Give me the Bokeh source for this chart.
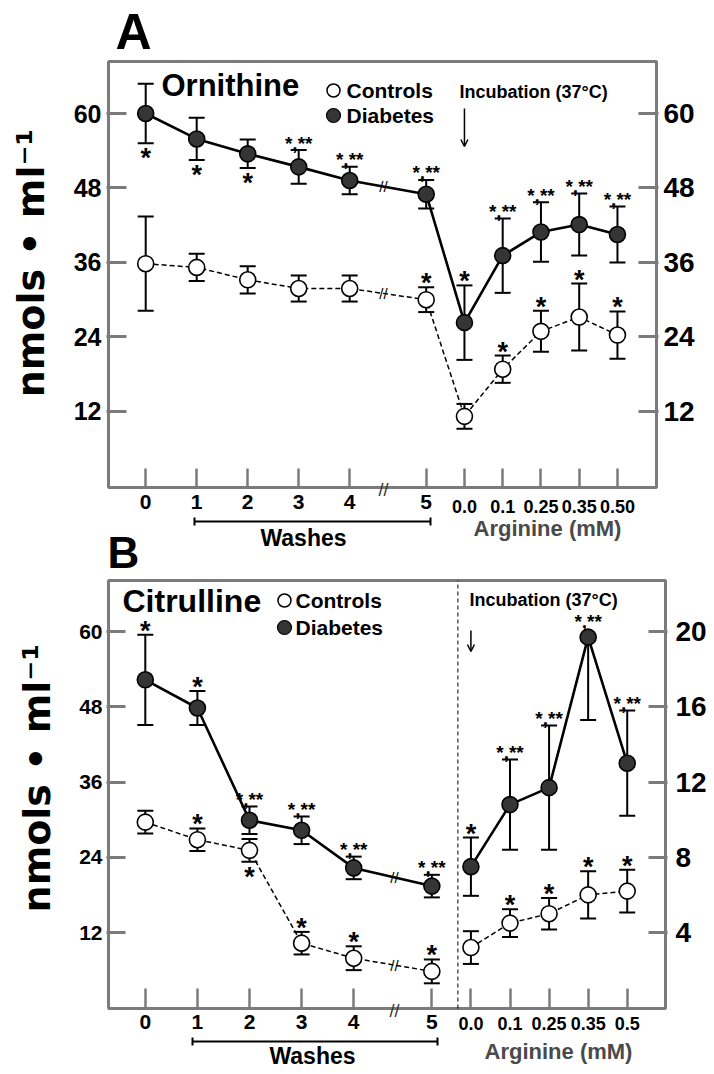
import numpy as np
from bokeh.plotting import figure
from bokeh.models import (ColumnDataSource, Range1d, LinearAxis, FixedTicker,
                          Whisker, TeeHead, Arrow, OpenHead)
from bokeh.layouts import column
from bokeh.embed import file_html
from bokeh.resources import INLINE
from bokeh.core.properties import value

# ---------------- data ----------------
wash_labels = ["0", "1", "2", "3", "4", "5"]
arginine_labels_A = ["0.0", "0.1", "0.25", "0.35", "0.50"]
arginine_labels_B = ["0.0", "0.1", "0.25", "0.35", "0.5"]

yticks_A = [12, 24, 36, 48, 60]
yticks_B_left = [12, 24, 36, 48, 60]
yticks_B_right = [4, 8, 12, 16, 20]

# Panel A - Ornithine (washes 0..5, then arginine 0.0..0.50)
orn_diabetes = [60.0, 55.9, 53.5, 51.4, 49.2, 47.0, 26.3, 37.1, 40.9, 42.1, 40.5]
orn_diabetes_sem = [4.8, 3.4, 2.3, 2.7, 2.2, 2.3, 6.0, 6.0, 4.8, 5.0, 4.5]
orn_controls = [35.8, 35.2, 33.2, 31.8, 31.8, 30.0, 11.2, 18.8, 24.9, 27.2, 24.3]
orn_controls_sem = [7.6, 2.2, 2.2, 2.1, 2.1, 2.0, 2.0, 2.2, 3.3, 5.4, 3.8]
orn_diabetes_sig = ["*", "*", "*", "*,**", "*,**", "*,**", "*", "*,**", "*,**", "*,**", "*,**"]
orn_diabetes_side = ["below", "below", "below"] + ["above"] * 8
orn_controls_sig = ["", "", "", "", "", "*", "", "*", "*", "*", "*"]
orn_controls_side = ["above"] * 11

# Panel B - Citrulline, washes (left axis, nmol/ml)
cit_w_diabetes = [52.3, 47.8, 29.9, 28.3, 22.3, 19.4]
cit_w_diabetes_sem = [7.2, 2.7, 2.2, 2.2, 1.8, 1.8]
cit_w_controls = [29.6, 26.8, 25.1, 10.3, 7.9, 5.8]
cit_w_controls_sem = [1.8, 1.8, 1.8, 1.8, 1.9, 1.9]
cit_w_diabetes_sig = ["*", "*", "*,**", "*,**", "*,**", "*,**"]
cit_w_diabetes_side = ["above"] * 6
cit_w_controls_sig = ["", "*", "*", "*", "*", "*"]
cit_w_controls_side = ["above", "above", "below", "above", "above", "above"]
# Panel B - Citrulline, arginine incubation (right axis)
cit_a_diabetes = [7.5, 10.8, 11.7, 19.7, 13.0]
cit_a_diabetes_up = [1.55, 2.4, 3.3, 0.0, 2.8]
cit_a_diabetes_dn = [1.55, 2.4, 3.3, 4.4, 2.8]
cit_a_controls = [3.2, 4.5, 5.0, 6.0, 6.2]
cit_a_controls_sem = [0.87, 0.74, 0.84, 1.26, 1.14]
cit_a_diabetes_sig = ["*", "*,**", "*,**", "*,**", "*,**"]
cit_a_controls_sig = ["", "*", "*", "*", "*"]

# ---------------- layout / style ----------------
xpos_wash = [0.0, 1.0, 2.0, 3.0, 4.0, 5.5]
xpos_arg = [6.25, 7.0, 7.75, 8.5, 9.25]
xpos_all = xpos_wash + xpos_arg

FONT = "Liberation Sans"
YFONT = "DejaVu Sans"
GRAY = "#7b7b7b"
MARKER = 16


class Panel:
    """page-pixel -> data helpers for one panel"""
    def __init__(self, x0, xunit, y60, ppu):
        self.x0, self.xunit, self.y60, self.ppu = x0, xunit, y60, ppu

    def X(self, px):
        return (px - self.x0) / self.xunit

    def Y(self, py):
        return 60 - (py - self.y60) / self.ppu


def make_fig(P, page_left, page_right, page_top, page_bottom, fig_left, fig_right):
    p = figure(frame_width=page_right - page_left, frame_height=page_bottom - page_top,
               x_range=Range1d(P.X(page_left), P.X(page_right)),
               y_range=Range1d(P.Y(page_bottom), P.Y(page_top)),
               output_backend="svg", toolbar_location=None,
               min_border_left=page_left - fig_left, min_border_right=fig_right - page_right,
               min_border_top=0, min_border_bottom=0)
    p.grid.visible = False
    p.outline_line_color = None
    p.background_fill_color = "white"
    p.border_fill_color = "white"
    return p


def style_axis(ax, ticks, size, standoff, tick_in, tick_w):
    ax.ticker = FixedTicker(ticks=ticks)
    ax.axis_line_color = None
    ax.major_tick_in = tick_in
    ax.major_tick_out = 0
    ax.major_tick_line_color = GRAY
    ax.major_tick_line_width = tick_w
    ax.minor_tick_line_color = None
    ax.major_label_text_font = FONT
    ax.major_label_text_font_style = "bold"
    ax.major_label_text_font_size = size
    ax.major_label_text_color = "black"
    ax.major_label_standoff = standoff


def txt(p, x, y, s, size, align="left", baseline="middle", color="black", style="bold"):
    xs = x if isinstance(x, list) else [x]
    ys = y if isinstance(y, list) else [y]
    ss = s if isinstance(s, list) else [s]
    p.text(x=xs, y=ys, text=ss, text_font=value(FONT), text_font_size=size,
           text_font_style=style, text_align=align, text_baseline=baseline, text_color=color)


def draw_series(p, xs, ys, up, dn, filled, range_name="default"):
    kw = {} if range_name == "default" else {"y_range_name": range_name}
    p.line(xs, ys, line_color="black", line_width=2.6 if filled else 1.5,
           line_dash="solid" if filled else "5 3", **kw)
    src = ColumnDataSource(dict(x=xs, up=[y + u for y, u in zip(ys, up)],
                                lo=[y - d for y, d in zip(ys, dn)]))
    w = Whisker(base="x", upper="up", lower="lo", source=src, level="underlay",
                line_color="black", line_width=2,
                upper_head=TeeHead(size=16, line_width=2, line_color="black"),
                lower_head=TeeHead(size=16, line_width=2, line_color="black"), **kw)
    p.add_layout(w)
    return p.scatter(xs, ys, size=MARKER, marker="circle",
                     fill_color="#353535" if filled else "white",
                     line_color="black", line_width=1.6, **kw)


def draw_sig(p, xs, ys, up, dn, texts, sides, ppu, range_name="default"):
    kw = {} if range_name == "default" else {"y_range_name": range_name}
    r = (MARKER / 2 + 1) / ppu
    X, Y, T, S = [], [], [], []
    for x, y, u, d, t, s in zip(xs, ys, up, dn, texts, sides):
        if not t:
            continue
        single = t == "*"
        if s == "above":
            base = y + max(u, r)
            yy = base + (4.0 if single else 7.0) / ppu
        else:
            base = y - max(d, r)
            yy = base - 15.0 / ppu
        X.append(x); Y.append(yy); T.append(t); S.append("27px" if single else "19px")
    src = ColumnDataSource(dict(x=X, y=Y, t=T, fs=S))
    p.text(x="x", y="y", text="t", text_font_size="fs", source=src, text_align="center",
           text_baseline="alphabetic", text_font=value(FONT), text_font_style="bold",
           text_color="black", **kw)


def draw_box(p, P, l, r, t, b):
    p.quad(left=[P.X(l)], right=[P.X(r)], bottom=[P.Y(b)], top=[P.Y(t)],
           fill_color=None, line_color=GRAY, line_width=3)


def manual_legend(p, P, mx, lx, y_ctrl, y_diab):
    p.scatter([P.X(mx)], [P.Y(y_ctrl)], size=13, marker="circle", fill_color="white",
              line_color="black", line_width=1.5)
    p.scatter([P.X(mx)], [P.Y(y_diab)], size=14, marker="circle", fill_color="#353535",
              line_color="black", line_width=1.2)
    txt(p, [P.X(lx)] * 2, [P.Y(y_ctrl), P.Y(y_diab)], ["Controls", "Diabetes"], "21px")


def bottom_decor(p, P, box_bottom, arg_labels, y_arg, y_line, x_line0, x_line1,
                 washes_xy, arg_xy, break_x):
    txt(p, xpos_arg, [P.Y(y_arg)] * len(xpos_arg), arg_labels, "18px", align="center")
    p.add_layout(Arrow(x_start=P.X(x_line0), y_start=P.Y(y_line),
                       x_end=P.X(x_line1), y_end=P.Y(y_line), line_width=2.2,
                       line_color="black",
                       start=TeeHead(size=8, line_width=2, line_color="black"),
                       end=TeeHead(size=8, line_width=2, line_color="black")))
    txt(p, P.X(washes_xy[0]), P.Y(washes_xy[1]), "Washes", "23px", align="center")
    txt(p, P.X(arg_xy[0]), P.Y(arg_xy[1]), "Arginine (mM)", "22px", align="center",
        color="#4a4a4a")
    txt(p, P.X(break_x), P.Y(box_bottom + 2), "//", "18px", align="center", style="normal",
        color="#333333")


def y_label(ax, pad, standoff):
    ax.axis_label = "\u00a0" * pad + "nmols \u2022 ml\u207b\u00b9"
    ax.axis_label_text_font = YFONT
    ax.axis_label_text_font_size = "38px"
    ax.axis_label_text_font_style = "bold"
    ax.axis_label_text_color = "black"
    ax.axis_label_standoff = standoff


# ================= Panel A =================
PA = Panel(x0=145.2, xunit=51.0, y60=113, ppu=6.206)
pA = make_fig(PA, 106, 658, 0, 578, 0, 714)
pA.extra_y_ranges = {"right": Range1d(pA.y_range.start, pA.y_range.end)}
pA.add_layout(LinearAxis(y_range_name="right"), "right")
draw_box(pA, PA, 108, 656, 61, 487)

style_axis(pA.yaxis[0], yticks_A, "25px", 5, 20, 3)
style_axis(pA.yaxis[1], yticks_A, "28px", 5, 20, 3)
style_axis(pA.xaxis[0], xpos_all, "21px", 7, 19, 2.5)
pA.xaxis[0].fixed_location = PA.Y(487)
pA.xaxis[0].major_label_overrides = {x: (wash_labels[i] if i < 6 else "")
                                    for i, x in enumerate(xpos_all)}
y_label(pA.yaxis[0], 4, 18)

ctrlA = draw_series(pA, xpos_all, orn_controls, orn_controls_sem, orn_controls_sem, False)
diabA = draw_series(pA, xpos_all, orn_diabetes, orn_diabetes_sem, orn_diabetes_sem, True)
draw_sig(pA, xpos_all, orn_controls, orn_controls_sem, orn_controls_sem,
         orn_controls_sig, orn_controls_side, PA.ppu)
draw_sig(pA, xpos_all, orn_diabetes, orn_diabetes_sem, orn_diabetes_sem,
         orn_diabetes_sig, orn_diabetes_side, PA.ppu)

bxA = PA.X(383)
brkA = [float(np.interp(bxA, xpos_wash, s[:6])) for s in (orn_diabetes, orn_controls)]
pA.text(x=[bxA, bxA], y=brkA, text=["//", "//"], text_align="center",
        text_baseline="middle", text_font_size="15px", text_color="black")

manual_legend(pA, PA, 333, 346, 90, 115)
txt(pA, PA.X(115), PA.Y(31), "A", "50px")
txt(pA, PA.X(161), PA.Y(85), "Ornithine", "31px")
txt(pA, PA.X(459), PA.Y(91), "Incubation (37\u00b0C)", "18px")
pA.add_layout(Arrow(x_start=xpos_arg[0], y_start=PA.Y(108), x_end=xpos_arg[0],
                    y_end=PA.Y(146), line_width=1.5, line_color="black",
                    end=OpenHead(size=7, line_width=1.5, line_color="black")))
bottom_decor(pA, PA, 487, arginine_labels_A, 506, 521, 194, 430, (303, 537), (547, 528), 383)
# panel letter B sits in the gap above panel B's frame
txt(pA, PA.X(107), PA.Y(552), "B", "44px")

# ================= Panel B =================
PB = Panel(x0=139.8, xunit=52.1, y60=631, ppu=6.271)
pB = make_fig(PB, 101, 662, 578, 1070, 0, 714)
pB.extra_y_ranges = {"right": Range1d(pB.y_range.start / 3, pB.y_range.end / 3)}
pB.add_layout(LinearAxis(y_range_name="right"), "right")
draw_box(pB, PB, 103, 660, 580, 1008)

style_axis(pB.yaxis[0], yticks_B_left, "21px", 4, 19, 3)
style_axis(pB.yaxis[1], yticks_B_right, "28px", 8, 19, 3)
style_axis(pB.xaxis[0], xpos_all, "21px", 6, 20, 2.5)
pB.xaxis[0].fixed_location = PB.Y(1008)
pB.xaxis[0].major_label_overrides = {x: (wash_labels[i] if i < 6 else "")
                                    for i, x in enumerate(xpos_all)}
y_label(pB.yaxis[0], 7, 17)

pB.segment(x0=[6.0], y0=[PB.Y(1008)], x1=[6.0], y1=[PB.Y(580)], line_color="black",
           line_width=1, line_dash="4 3")

ctrlB = draw_series(pB, xpos_wash, cit_w_controls, cit_w_controls_sem, cit_w_controls_sem, False)
diabB = draw_series(pB, xpos_wash, cit_w_diabetes, cit_w_diabetes_sem, cit_w_diabetes_sem, True)
draw_series(pB, xpos_arg, cit_a_controls, cit_a_controls_sem, cit_a_controls_sem, False, "right")
draw_series(pB, xpos_arg, cit_a_diabetes, cit_a_diabetes_up, cit_a_diabetes_dn, True, "right")

ppuBr = PB.ppu * 3
draw_sig(pB, xpos_wash, cit_w_controls, cit_w_controls_sem, cit_w_controls_sem,
         cit_w_controls_sig, cit_w_controls_side, PB.ppu)
draw_sig(pB, xpos_wash, cit_w_diabetes, cit_w_diabetes_sem, cit_w_diabetes_sem,
         cit_w_diabetes_sig, cit_w_diabetes_side, PB.ppu)
draw_sig(pB, xpos_arg, cit_a_controls, cit_a_controls_sem, cit_a_controls_sem,
         cit_a_controls_sig, ["above"] * 5, ppuBr, "right")
draw_sig(pB, xpos_arg, cit_a_diabetes, cit_a_diabetes_up, cit_a_diabetes_dn,
         cit_a_diabetes_sig, ["above"] * 5, ppuBr, "right")

bxB = PB.X(389)
brkB = [float(np.interp(bxB, xpos_wash, s)) for s in (cit_w_diabetes, cit_w_controls)]
pB.text(x=[bxB, bxB], y=brkB, text=["//", "//"], text_align="center",
        text_baseline="middle", text_font_size="15px", text_color="black")

manual_legend(pB, PB, 279, 290, 600, 627)
txt(pB, PB.X(117), PB.Y(600), "Citrulline", "32px")
txt(pB, PB.X(464), PB.Y(599), "Incubation (37\u00b0C)", "18px")
pB.add_layout(Arrow(x_start=xpos_arg[0], y_start=PB.Y(630), x_end=xpos_arg[0],
                    y_end=PB.Y(651), line_width=1.5, line_color="black",
                    end=OpenHead(size=7, line_width=1.5, line_color="black")))
bottom_decor(pB, PB, 1008, arginine_labels_B, 1023, 1041, 187, 432, (307, 1055), (553, 1051), 389)

layout = column(pA, pB, spacing=0)
open("out.html", "w").write(file_html(layout, INLINE))
